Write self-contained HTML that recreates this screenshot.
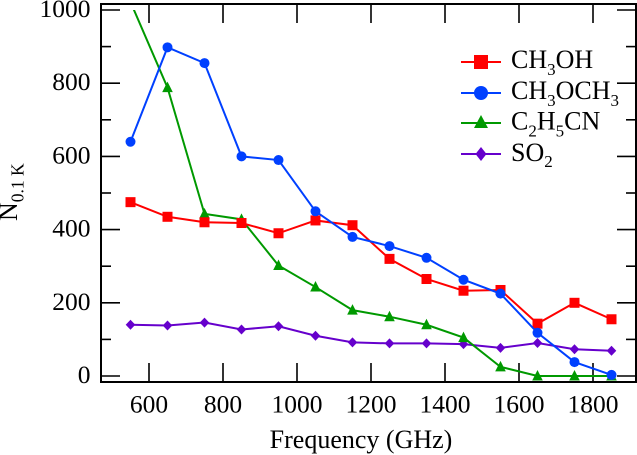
<!DOCTYPE html>
<html>
<head>
<meta charset="utf-8">
<style>
html,body{margin:0;padding:0;background:#fff;width:637px;height:455px;overflow:hidden}
svg{display:block}
text{font-family:"Liberation Serif",serif;fill:#000}
</style>
</head>
<body>
<svg id="chart" width="637" height="455" viewBox="0 0 637 455">
<defs><clipPath id="plot-clip"><rect x="101" y="10" width="535" height="380"></rect></clipPath></defs>
<g id="grid-axes"></g>
<g id="series-layer" clip-path="url(#plot-clip)"></g>
<g>
  <g>
    <line x1="461" x2="501" y1="62" y2="62" stroke="#ff0000" stroke-width="2"></line>
    <rect x="474" y="55" width="14" height="14" fill="#ff0000"></rect>
    <text x="511" y="68" font-size="26">CH<tspan dy="7" font-size="17">3</tspan><tspan dy="-7">OH</tspan></text>
  </g>
  <g>
    <line x1="461" x2="501" y1="93" y2="93" stroke="#0040ff" stroke-width="2"></line>
    <circle cx="481" cy="93" r="7" fill="#0040ff"></circle>
    <text x="511" y="99" font-size="26">CH<tspan dy="7" font-size="17">3</tspan><tspan dy="-7">OCH</tspan><tspan dy="7" font-size="17">3</tspan></text>
  </g>
  <g>
    <line x1="461" x2="501" y1="123" y2="123" stroke="#009900" stroke-width="2"></line>
    <polygon points="481,115 488,128 474,128" fill="#009900"></polygon>
    <text x="511" y="129.5" font-size="26">C<tspan dy="7" font-size="17">2</tspan><tspan dy="-7">H</tspan><tspan dy="7" font-size="17">5</tspan><tspan dy="-7">CN</tspan></text>
  </g>
  <g>
    <line x1="461" x2="501" y1="154" y2="154" stroke="#6600cc" stroke-width="2"></line>
    <polygon points="481,147 486.5,154 481,161 475.5,154" fill="#6600cc"></polygon>
    <text x="511" y="161" font-size="26">SO<tspan dy="6" font-size="17">2</tspan></text>
  </g>
</g>
<text x="361" y="448" font-size="26" text-anchor="middle">Frequency (GHz)</text>
<text transform="translate(17,221) rotate(-90)" font-size="26">N<tspan dy="6.5" font-size="17.5">0.1 K</tspan></text>
</svg>
<script>
const frequencies = [550,650,750,850,950,1050,1150,1250,1350,1450,1550,1650,1750,1850];
const ch3oh = [475,435,420,418,390,425,412,320,265,233,235,143,200,155];
const ch3och3 = [640,898,855,600,590,450,380,355,323,263,225,118,38,3];
const c2h5cn = [1022,788,443,428,302,243,180,162,140,105,25,0,0,0];
const so2 = [140,138,146,127,136,110,92,89,89,87,77,90,73,69];
const xTickLabels = [600,800,1000,1200,1400,1600,1800];
const yTickLabels = [0,200,400,600,800,1000];
const yMinorTicks = [100,300,500,700,900];

const NS = 'http://www.w3.org/2000/svg';
function xScale(v){ return 149 + (v - 600) * 0.37; }
function yScale(v){ return 376 - v * 0.366; }
function make(tag, attrs, parent){
  const el = document.createElementNS(NS, tag);
  for (const k in attrs) el.setAttribute(k, attrs[k]);
  parent.appendChild(el);
  return el;
}
const axes = document.getElementById('grid-axes');
const frame = make('rect', {x:101, y:4, width:535, height:378, fill:'none', stroke:'#000', 'stroke-width':2}, axes);



xTickLabels.forEach(function(v){
  const x = xScale(v);
  const a = make('line', {x1:x, x2:x, y1:382, y2:363, stroke:'#000', 'stroke-width':1.6}, axes);
  
  
  const b = make('line', {x1:x, x2:x, y1:4, y2:23, stroke:'#000', 'stroke-width':1.6}, axes);
  
  
  const t = make('text', {x:x, y:412.5, 'font-size':25.5, 'text-anchor':'middle'}, axes);
  
  
  t.textContent = v;
});
yTickLabels.forEach(function(v){
  const y = yScale(v);
  const a = make('line', {x1:101, x2:120, y1:y, y2:y, stroke:'#000', 'stroke-width':1.6}, axes);
  
  
  const b = make('line', {x1:617, x2:636, y1:y, y2:y, stroke:'#000', 'stroke-width':1.6}, axes);
  
  
  const t = make('text', {x:90.5, y:y + 7, 'font-size':25.5, 'text-anchor':'end'}, axes);
  
  
  t.textContent = v;
});
yMinorTicks.forEach(function(v){
  const y = yScale(v);
  const a = make('line', {x1:101, x2:111, y1:y, y2:y, stroke:'#000', 'stroke-width':1.6}, axes);
  
  
  const b = make('line', {x1:626, x2:636, y1:y, y2:y, stroke:'#000', 'stroke-width':1.6}, axes);
  
  
});

const layer = document.getElementById('series-layer');
function drawSeries(values, color, name, marker){
  const pts = values.map(function(v, i){ return xScale(frequencies[i]) + ',' + yScale(v); }).join(' ');
  const line = make('polyline', {points:pts, fill:'none', stroke:color, 'stroke-width':2}, layer);
  
  
  values.forEach(function(v, i){
    const x = xScale(frequencies[i]), y = yScale(v);
    let m;
    if (marker === 'square') m = make('rect', {x:x-5, y:y-5, width:10, height:10, fill:color}, layer);
    else if (marker === 'circle') m = make('circle', {cx:x, cy:y, r:5, fill:color}, layer);
    else if (marker === 'triangle') m = make('polygon', {points:x+','+(y-6)+' '+(x+5.3)+','+(y+4.5)+' '+(x-5.3)+','+(y+4.5), fill:color}, layer);
    else m = make('polygon', {points:x+','+(y-5)+' '+(x+4.8)+','+y+' '+x+','+(y+5)+' '+(x-4.8)+','+y, fill:color}, layer);
    
    
  });
}
drawSeries(so2, '#6600cc', 'so2', 'diamond');
drawSeries(c2h5cn, '#009900', 'c2h5cn', 'triangle');
drawSeries(ch3oh, '#ff0000', 'ch3oh', 'square');
drawSeries(ch3och3, '#0040ff', 'ch3och3', 'circle');
</script>
</body>
</html>
